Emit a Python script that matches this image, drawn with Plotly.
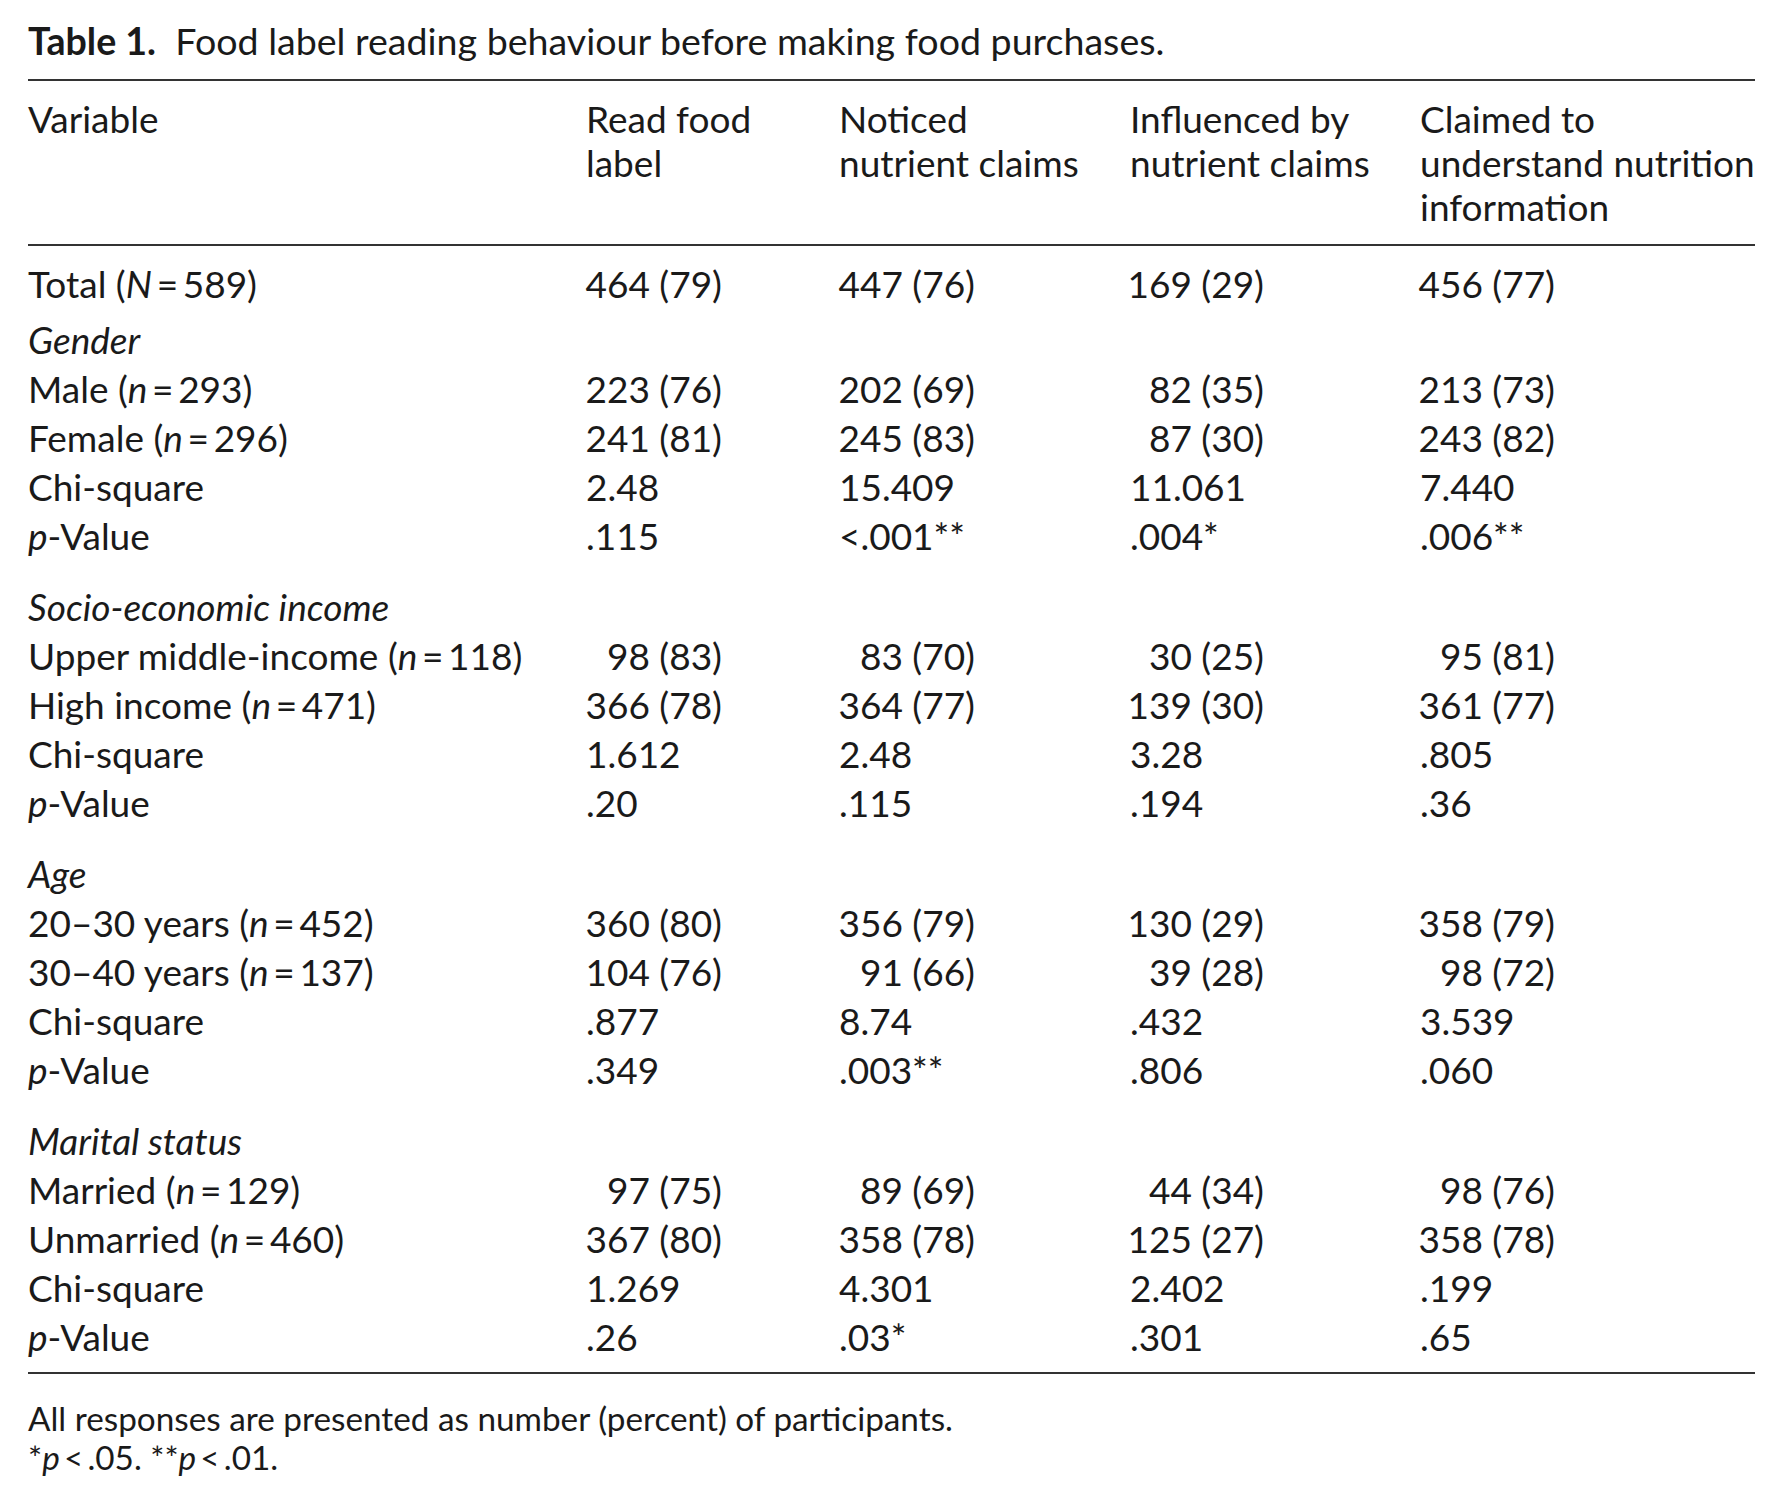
import plotly.graph_objects as go

# ---------------- data ----------------
title_text = "<b>Table 1.</b>  Food label reading behaviour before making food purchases."

header_var = ["Variable"]
header_cols = [
    ["Read food", "label"],
    ["Noticed", "nutrient claims"],
    ["Influenced by", "nutrient claims"],
    ["Claimed to", "understand nutrition", "information"],
]

row_labels = [
    "Total (<i>N</i>\u2009=\u2009589)",
    "<i>Gender</i>",
    "Male (<i>n</i>\u2009=\u2009293)",
    "Female (<i>n</i>\u2009=\u2009296)",
    "Chi-square",
    "<i>p</i>-Value",
    "<i>Socio-economic income</i>",
    "Upper middle-income (<i>n</i>\u2009=\u2009118)",
    "High income (<i>n</i>\u2009=\u2009471)",
    "Chi-square",
    "<i>p</i>-Value",
    "<i>Age</i>",
    "20\u201330 years (<i>n</i>\u2009=\u2009452)",
    "30\u201340 years (<i>n</i>\u2009=\u2009137)",
    "Chi-square",
    "<i>p</i>-Value",
    "<i>Marital status</i>",
    "Married (<i>n</i>\u2009=\u2009129)",
    "Unmarried (<i>n</i>\u2009=\u2009460)",
    "Chi-square",
    "<i>p</i>-Value",
]

# cell kinds: "c" count (right aligned), "s" statistic (left aligned), "h" group heading
row_kinds = ["c", "h", "c", "c", "s", "s", "h", "c", "c", "s", "s",
             "h", "c", "c", "s", "s", "h", "c", "c", "s", "s"]

read_food_label = ["464 (79)", "", "223 (76)", "241 (81)", "2.48", ".115",
                   "", "98 (83)", "366 (78)", "1.612", ".20",
                   "", "360 (80)", "104 (76)", ".877", ".349",
                   "", "97 (75)", "367 (80)", "1.269", ".26"]
noticed_claims = ["447 (76)", "", "202 (69)", "245 (83)", "15.409", "&lt;.001**",
                  "", "83 (70)", "364 (77)", "2.48", ".115",
                  "", "356 (79)", "91 (66)", "8.74", ".003**",
                  "", "89 (69)", "358 (78)", "4.301", ".03*"]
influenced_claims = ["169 (29)", "", "82 (35)", "87 (30)", "11.061", ".004*",
                     "", "30 (25)", "139 (30)", "3.28", ".194",
                     "", "130 (29)", "39 (28)", ".432", ".806",
                     "", "44 (34)", "125 (27)", "2.402", ".301"]
understand_info = ["456 (77)", "", "213 (73)", "243 (82)", "7.440", ".006**",
                   "", "95 (81)", "361 (77)", ".805", ".36",
                   "", "358 (79)", "98 (72)", "3.539", ".060",
                   "", "98 (76)", "358 (78)", ".199", ".65"]

footnotes = [
    "All responses are presented as number (percent) of participants.",
    "*<i>p</i>\u2009&lt;\u2009.05. **<i>p</i>\u2009&lt;\u2009.01.",
]

# ---------------- layout constants ----------------
W, H = 1782, 1500
FONT = "Lato"
FS = 37
TXT = "#1a1a1a"
RULE = "#333333"

col_left = [20, 578, 831, 1122, 1412]
col_right = [None, 714, 967, 1256, 1547]   # right edge for count cells
rule_x0, rule_x1 = 20, 1747

title_y = 38
rule_top, rule_head, rule_bottom = 72, 237, 1365
header_y0, header_step = 115.5, 44

row_step = 49
first_gap = 56
group_gap = 71
y = 280.5
row_y = []
for i in range(len(row_labels)):
    if i > 0:
        if row_kinds[i] == "h":
            y += first_gap if i == 1 else group_gap
        else:
            y += row_step
    row_y.append(y)

foot_y = [1414.5, 1453.5]

fig = go.Figure()

def add_text(xs, ys, texts, pos, size=FS):
    fig.add_trace(go.Scatter(
        x=xs, y=ys, text=texts, mode="text", textposition=pos,
        textfont=dict(family=FONT, size=size, color=TXT),
        hoverinfo="skip", showlegend=False, cliponaxis=False))

# title
add_text([col_left[0]], [title_y], [title_text], "middle right", 37.6)

# header
hx, hy, ht = [], [], []
for j, lines in enumerate([header_var] + header_cols):
    for li, t in enumerate(lines):
        hx.append(col_left[j]); hy.append(header_y0 + li * header_step); ht.append(t)
add_text(hx, hy, ht, "middle right")

# row labels
add_text([col_left[0]] * len(row_labels), row_y, row_labels, "middle right")

# data columns
for j, col in enumerate([read_food_label, noticed_claims, influenced_claims, understand_info], start=1):
    cx, cy, ct = [], [], []
    sx, sy, st = [], [], []
    for i, v in enumerate(col):
        if not v:
            continue
        if row_kinds[i] == "c":
            cx.append(col_right[j]); cy.append(row_y[i]); ct.append(v)
        else:
            sx.append(col_left[j]); sy.append(row_y[i]); st.append(v)
    add_text(cx, cy, ct, "middle left")
    add_text(sx, sy, st, "middle right")

# footnotes
add_text([col_left[0]] * len(footnotes), foot_y, footnotes, "middle right", 33.3)

shapes = []
for ry in [rule_top, rule_head, rule_bottom]:
    shapes.append(dict(type="line", xref="x", yref="y", x0=rule_x0, x1=rule_x1, y0=ry, y1=ry,
                       line=dict(color=RULE, width=2)))

fig.update_layout(
    width=W, height=H,
    margin=dict(l=0, r=0, t=0, b=0),
    paper_bgcolor="white", plot_bgcolor="white",
    xaxis=dict(range=[0, W], visible=False, fixedrange=True),
    yaxis=dict(range=[H, 0], visible=False, fixedrange=True),
    shapes=shapes,
)

fig.write_html("out.html")
